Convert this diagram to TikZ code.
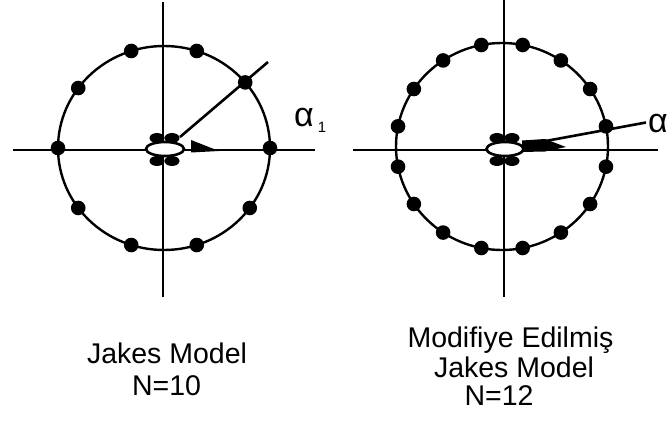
\documentclass[tikz,border=0pt]{standalone}
\usepackage{fontspec}
\setmainfont{Liberation Sans}
\begin{document}
\begin{tikzpicture}[x=1pt,y=-1pt,
  axis/.style={line width=2pt},
  ring/.style={line width=2.4pt},
  ray/.style={line width=2.6pt},
  dotmark/.style={fill=black},
  lbl/.style={font=\fontsize{28.5}{32}\selectfont, anchor=base, inner sep=0pt},
  alab/.style={font=\fontsize{34}{36}\selectfont, anchor=base, inner sep=0pt},
  sublab/.style={font=\fontsize{15}{17}\selectfont, anchor=base, inner sep=0pt}]
\useasboundingbox (0,0) rectangle (672,425);

% ---------- left: Jakes model, N=10 ----------
\coordinate (c1) at (164,148);
\coordinate (h1a) at (13,150);  \coordinate (h1b) at (315,150);
\coordinate (v1a) at (163,2);   \coordinate (v1b) at (163,297);
\draw[axis] (h1a) -- (h1b);
\draw[axis] (v1a) -- (v1b);
\draw[ring] (c1) ellipse [x radius=106, y radius=102];
\foreach \a in {0,40,72,108,144,180,216,252,288,324}
  \fill[dotmark] ({164+106*cos(\a)},{148-102*sin(\a)}) circle[radius=7.3];
\coordinate (r1s) at (180,137); \coordinate (r1e) at (268,62);
\draw[ray] (r1s) -- (r1e);
\fill (191,140) -- (191,152.5) -- (219,151) -- cycle;
% centre antenna
\fill (157,138) ellipse [x radius=7.5, y radius=5];
\fill (172,138) ellipse [x radius=7.5, y radius=5];
\fill (157,161) ellipse [x radius=7.5, y radius=5];
\fill (172,161) ellipse [x radius=7.5, y radius=5];
\draw[line width=2.6pt, fill=white] (165,149) ellipse [x radius=19, y radius=7];
\node[alab] (al1) at (304,127) {α};
\node[sublab] (al1s) at (322,132) {1};

\node[lbl] (t1a) at (167,363) {Jakes Model};
\node[lbl] (t1b) at (166.5,395) {N=10};

% ---------- right: modified Jakes model, N=12 ----------
\coordinate (c2) at (502,146.5);
\coordinate (h2a) at (353,150); \coordinate (h2b) at (658,150);
\coordinate (v2a) at (504,0);   \coordinate (v2b) at (504,297);
\draw[axis] (h2a) -- (h2b);
\draw[axis] (v2a) -- (v2b);
\draw[ring] (c2) ellipse [x radius=106, y radius=103.5];
\foreach \k in {0,...,15}
  \fill[dotmark] ({502+106*cos(11.25+22.5*\k)},{146.5-103.5*sin(11.25+22.5*\k)}) circle[radius=7.3];
\coordinate (r2s) at (524,145); \coordinate (r2e) at (646,122.5);
\draw[ray] (r2s) -- (r2e);
\fill (522,140.5) -- (545,139) -- (566,147) -- (545,151.5) -- (522,152) -- cycle;
% centre antenna
\fill (497,138) ellipse [x radius=7.5, y radius=5];
\fill (512,138) ellipse [x radius=7.5, y radius=5];
\fill (497,161) ellipse [x radius=7.5, y radius=5];
\fill (512,161) ellipse [x radius=7.5, y radius=5];
\draw[line width=2.6pt, fill=white] (505,149) ellipse [x radius=18.5, y radius=7];
\node[alab] (al2) at (658,133) {α};

\node[lbl] (t2a) at (510.5,347) {Modifiye Edilmiş};
\node[lbl] (t2b) at (514,377) {Jakes Model};
\node[lbl] (t2c) at (499,405) {N=12};
\end{tikzpicture}
\end{document}
